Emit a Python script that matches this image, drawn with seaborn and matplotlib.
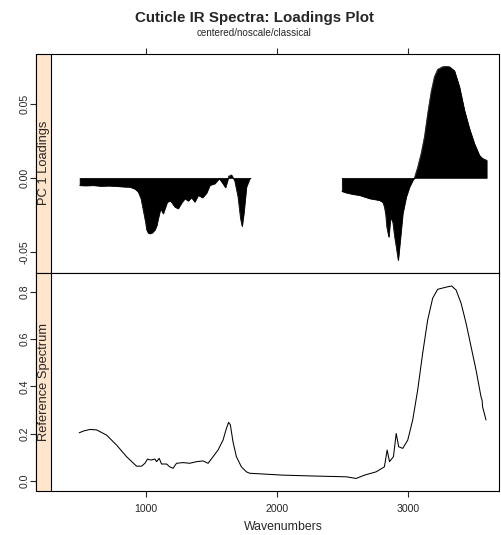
import matplotlib
matplotlib.use("Agg")
import matplotlib.pyplot as plt
import seaborn as sns
import pandas as pd
from matplotlib.patches import Rectangle

# PC 1 loadings, low-wavenumber block
load_wn_low = [497, 540, 600, 660, 720, 780, 840, 880, 920, 944,
               965, 982, 1000, 1008, 1020, 1033, 1050, 1071, 1085, 1096,
               1114, 1134, 1150, 1165, 1190, 1210, 1223, 1248, 1274, 1299,
               1324, 1350, 1375, 1401, 1434, 1465, 1490, 1528, 1561, 1586,
               1609, 1634, 1655, 1680, 1705, 1724, 1736, 1749, 1769, 1794, 1800]
load_low = [-0.0050, -0.0052, -0.0050, -0.0055, -0.0053, -0.0056, -0.0060, -0.0061, -0.0075, -0.0095,
            -0.0140, -0.0218, -0.0300, -0.0350, -0.0372, -0.0376, -0.0370, -0.0350, -0.0320, -0.0274,
            -0.0207, -0.0241, -0.0200, -0.0162, -0.0155, -0.0180, -0.0196, -0.0207, -0.0169, -0.0139,
            -0.0155, -0.0133, -0.0162, -0.0117, -0.0133, -0.0101, -0.0049, -0.0038, -0.0004, -0.0034,
            -0.0065, 0.0011, 0.0020, -0.0020, -0.0128, -0.0274, -0.0326, -0.0240, -0.0061, -0.0004, -0.0003]

# PC 1 loadings, high-wavenumber block
load_wn_high = [2497, 2530, 2581, 2632, 2708, 2784, 2810, 2822, 2832, 2840,
                2855, 2862, 2868, 2886, 2900, 2912, 2927, 2942, 2962, 2988,
                3013, 3038, 3051, 3076, 3102, 3127, 3152, 3178, 3203, 3228,
                3266, 3292, 3318, 3356, 3394, 3432, 3470, 3508, 3546, 3560,
                3571, 3597, 3602]
load_high = [-0.0090, -0.0100, -0.0110, -0.0117, -0.0139, -0.0151, -0.0165, -0.0196, -0.0250, -0.0331,
             -0.0399, -0.0330, -0.0264, -0.0300, -0.0400, -0.0466, -0.0556, -0.0420, -0.0240, -0.0128,
             -0.0061, -0.0016, 0.0000, 0.0074, 0.0165, 0.0277, 0.0435, 0.0581, 0.0682, 0.0732,
             0.0750, 0.0752, 0.0750, 0.0723, 0.0615, 0.0457, 0.0334, 0.0232, 0.0153, 0.0140,
             0.0131, 0.0120, 0.0120]

# reference spectrum
ref_wn = [494, 530, 576, 627, 703, 779, 855, 931, 970, 995,
          1015, 1030, 1046, 1071, 1084, 1104, 1122, 1160, 1185, 1210,
          1236, 1286, 1337, 1388, 1439, 1477, 1515, 1553, 1591, 1617,
          1634, 1647, 1667, 1693, 1731, 1769, 1794, 2048, 2302, 2531,
          2607, 2670, 2759, 2822, 2843, 2861, 2891, 2912, 2931, 2962,
          3000, 3038, 3076, 3114, 3152, 3190, 3228, 3292, 3335, 3369,
          3407, 3445, 3483, 3521, 3559, 3567, 3571, 3584, 3597]
ref_abs = [0.204, 0.212, 0.218, 0.216, 0.194, 0.152, 0.103, 0.063, 0.063, 0.075,
           0.093, 0.090, 0.089, 0.093, 0.082, 0.096, 0.072, 0.072, 0.060, 0.054,
           0.075, 0.078, 0.075, 0.082, 0.085, 0.075, 0.103, 0.131, 0.173, 0.223,
           0.248, 0.237, 0.166, 0.103, 0.060, 0.039, 0.033, 0.025, 0.021, 0.018,
           0.011, 0.025, 0.039, 0.060, 0.131, 0.082, 0.103, 0.201, 0.145, 0.138,
           0.173, 0.258, 0.385, 0.540, 0.680, 0.772, 0.810, 0.819, 0.824, 0.807,
           0.751, 0.667, 0.568, 0.469, 0.356, 0.342, 0.314, 0.286, 0.258]

x_ticks = [1000, 2000, 3000]
top_yticks = [-0.05, 0.00, 0.05]
top_ylabels = ["-0.05", "0.00", "0.05"]
bot_yticks = [0.0, 0.2, 0.4, 0.6, 0.8]
bot_ylabels = ["0.0", "0.2", "0.4", "0.6", "0.8"]
strip_labels = ["PC 1 Loadings", "Reference Spectrum"]

sns.set_style("white")
plt.rcParams["font.family"] = ["Liberation Sans", "DejaVu Sans"]
plt.rcParams["axes.unicode_minus"] = False

W, H = 502, 535
fig = plt.figure(figsize=(W / 100, H / 100), dpi=100)

left, right = 51.3, 499.5
top, mid, bottom = 54.0, 272.5, 491.0
strip_w = 15.6
STRIP = "#FFE5CC"

ax_top = fig.add_axes([left / W, 1 - mid / H, (right - left) / W, (mid - top) / H])
ax_bot = fig.add_axes([left / W, 1 - bottom / H, (right - left) / W, (bottom - mid) / H])

# loadings as filled spikes
ax_top.fill_between(load_wn_low, 0, load_low, color="black", lw=0.5)
ax_top.fill_between(load_wn_high, 0, load_high, color="black", lw=0.5)
sns.lineplot(x=load_wn_low, y=load_low, ax=ax_top, color="black", lw=0.5,
             sort=False, estimator=None)
sns.lineplot(x=load_wn_high, y=load_high, ax=ax_top, color="black", lw=0.5,
             sort=False, estimator=None)

ref = pd.DataFrame({"wn": ref_wn, "abs": ref_abs})
sns.lineplot(data=ref, x="wn", y="abs", ax=ax_bot, color="black", lw=0.75,
             sort=False, estimator=None)

xlim = (281, 3700)
ax_top.set_xlim(xlim)
ax_bot.set_xlim(xlim)
ax_top.set_ylim(-0.0639, 0.0836)
ax_bot.set_ylim(-0.042, 0.881)

for ax, yt, yl in [(ax_top, top_yticks, top_ylabels), (ax_bot, bot_yticks, bot_ylabels)]:
    ax.set_xlabel("")
    ax.set_ylabel("")
    for s in ax.spines.values():
        s.set_color("black")
        s.set_linewidth(0.8)
    ax.spines["left"].set_position(("outward", strip_w * 0.72))
    ax.set_yticks(yt)
    ax.set_yticklabels(yl)
    ax.tick_params(axis="y", left=True, right=False, direction="out", length=4.1,
                   width=0.8, labelsize=7.6, pad=0.5)
    for lab in ax.get_yticklabels():
        lab.set_rotation(90)
        lab.set_va("center")
    ax.set_xticks(x_ticks)

ax_top.tick_params(axis="x", top=True, bottom=False, labeltop=False, labelbottom=False,
                   direction="out", length=4.3, width=0.8)
ax_bot.tick_params(axis="x", top=False, bottom=True, labelbottom=True, direction="out",
                   length=4.3, width=0.8, labelsize=7.6, pad=5)

# strips on the left of each panel
for (y0, y1), lab in zip([(top, mid), (mid, bottom)], strip_labels):
    fig.add_artist(Rectangle(((left - strip_w) / W, 1 - y1 / H), strip_w / W, (y1 - y0) / H,
                             transform=fig.transFigure, facecolor=STRIP,
                             edgecolor="black", lw=0.8))
    fig.text((left - strip_w / 2 + 1) / W, 1 - (y0 + y1) / 2 / H, lab, rotation=90,
             ha="center", va="center", fontsize=9.3)

fig.text(254.5 / W, 1 - 18 / H, "Cuticle IR Spectra: Loadings Plot",
         ha="center", va="center", fontsize=10.9, fontweight="bold")
fig.text(254.5 / W, 1 - 33 / H, "centered/noscale/classical",
         ha="center", va="center", fontsize=7.1)
fig.text(283 / W, 1 - 527 / H, "Wavenumbers", ha="center", va="center", fontsize=8.8)

fig.savefig("out.png", dpi=100)
